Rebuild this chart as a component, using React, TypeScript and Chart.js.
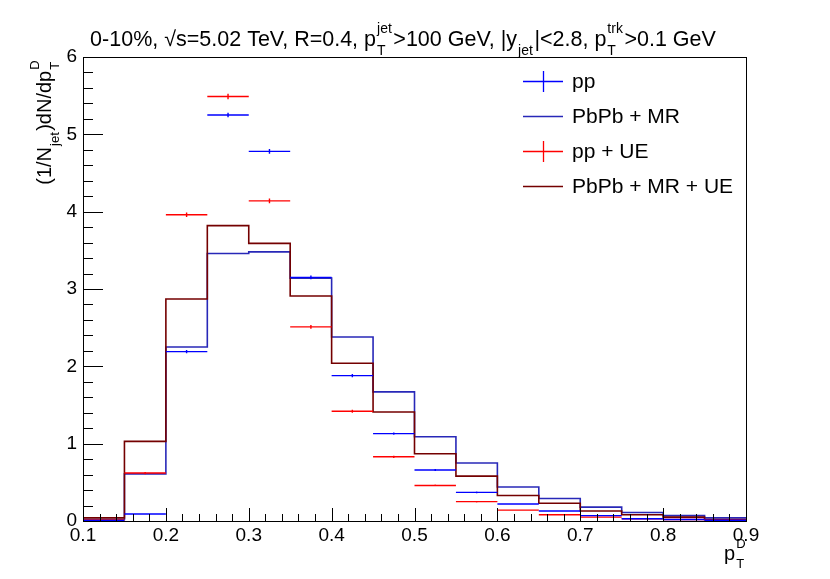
import React, { useEffect, useRef } from "react";
import { Chart, registerables } from "chart.js";

Chart.register(...registerables);

// ---------------- data ----------------
const binEdges = [0.1, 0.15, 0.2, 0.25, 0.3, 0.35, 0.4, 0.45, 0.5, 0.55, 0.6, 0.65, 0.7, 0.75, 0.8, 0.85, 0.9];

const ppValues = [0.005, 0.09, 2.19, 5.25, 4.78, 3.15, 1.88, 1.13, 0.66, 0.37, 0.22, 0.13, 0.07, 0.03, 0.02, 0.01];
const ppErrors = [0.005, 0.01, 0.02, 0.03, 0.03, 0.025, 0.02, 0.015, 0.012, 0.01, 0.008, 0.006, 0.005, 0.004, 0.003, 0.002];

const ppUEValues = [0.01, 0.62, 3.96, 5.49, 4.14, 2.51, 1.42, 0.83, 0.46, 0.25, 0.14, 0.08, 0.05, 0.03, 0.02, 0.01];
const ppUEErrors = [0.005, 0.015, 0.03, 0.035, 0.03, 0.025, 0.02, 0.015, 0.012, 0.01, 0.008, 0.006, 0.005, 0.004, 0.003, 0.002];

const pbpbMRValues = [0.02, 0.61, 2.25, 3.46, 3.48, 3.14, 2.38, 1.67, 1.09, 0.75, 0.44, 0.29, 0.18, 0.11, 0.07, 0.04];
const pbpbMRUEValues = [0.04, 1.03, 2.87, 3.82, 3.59, 2.91, 2.04, 1.41, 0.87, 0.58, 0.33, 0.23, 0.13, 0.08, 0.05, 0.02];

const xTickValues = [0.1, 0.2, 0.3, 0.4, 0.5, 0.6, 0.7, 0.8, 0.9];
const yTickValues = [0, 1, 2, 3, 4, 5, 6];

const seriesLabels = ["pp", "PbPb + MR", "pp + UE", "PbPb + MR + UE"];

// ---------------- styles ----------------
const FAMILY = '"Liberation Sans", Arial, Helvetica, sans-serif';
const BLUE = "#0000ff";
const HIST_BLUE = "#2828b8";
const RED = "#ff0000";
const DARK_RED = "#740000";

type Seg = { t?: string; sub?: string; sup?: string };

const titleSegs: Seg[] = [
  { t: "0-10%, \u221As=5.02 TeV, R=0.4, p" },
  { sub: "T", sup: "jet" },
  { t: ">100 GeV, |y" },
  { sub: "jet" },
  { t: "|<2.8, p" },
  { sub: "T", sup: "trk" },
  { t: ">0.1 GeV" },
];
const yTitleSegs: Seg[] = [{ t: "(1/N" }, { sub: "jet" }, { t: ")dN/dp" }, { sub: "T", sup: "D" }];
const xTitleSegs: Seg[] = [{ t: "p" }, { sub: "T", sup: "D" }];

function richWidth(ctx: CanvasRenderingContext2D, segs: Seg[], size: number) {
  let w = 0;
  for (const s of segs) {
    if (s.t) {
      ctx.font = `${size}px ${FAMILY}`;
      w += ctx.measureText(s.t).width;
    } else {
      ctx.font = `${size * 0.65}px ${FAMILY}`;
      const a = s.sub ? ctx.measureText(s.sub).width : 0;
      const b = s.sup ? ctx.measureText(s.sup).width : 0;
      w += Math.max(a, b) + size * 0.12;
    }
  }
  return w;
}

function drawRich(ctx: CanvasRenderingContext2D, segs: Seg[], x: number, y: number, size: number) {
  let cx = x;
  ctx.textBaseline = "alphabetic";
  ctx.textAlign = "left";
  for (const s of segs) {
    if (s.t) {
      ctx.font = `${size}px ${FAMILY}`;
      ctx.fillText(s.t, cx, y);
      cx += ctx.measureText(s.t).width;
    } else {
      const ss = size * 0.65;
      ctx.font = `${ss}px ${FAMILY}`;
      let w = 0;
      if (s.sup) {
        ctx.fillText(s.sup, cx + 1, y - size * 0.62);
        w = Math.max(w, ctx.measureText(s.sup).width);
      }
      if (s.sub) {
        ctx.fillText(s.sub, cx + 1, y + size * 0.42);
        w = Math.max(w, ctx.measureText(s.sub).width);
      }
      cx += w + size * 0.12;
    }
  }
}

function histPoints(vals: number[]) {
  const pts: { x: number; y: number | null }[] = [];
  vals.forEach((v, i) => {
    pts.push({ x: binEdges[i], y: v });
    pts.push({ x: binEdges[i + 1], y: v });
  });
  return pts;
}

function errPoints(vals: number[], errs: number[]) {
  const pts: { x: number; y: number | null }[] = [];
  vals.forEach((v, i) => {
    const lo = binEdges[i];
    const hi = binEdges[i + 1];
    const c = (lo + hi) / 2;
    pts.push({ x: lo, y: v }, { x: hi, y: v }, { x: hi, y: null });
    pts.push({ x: c, y: v - errs[i] }, { x: c, y: v + errs[i] }, { x: c, y: null });
  });
  return pts;
}

const decorPlugin = {
  id: "rootDecor",
  afterDraw(chart: any) {
    const ctx: CanvasRenderingContext2D = chart.ctx;
    const { left, right, top, bottom } = chart.chartArea;
    const xs = chart.scales.x;
    const ys = chart.scales.y;
    ctx.save();
    ctx.strokeStyle = "#000";
    ctx.lineWidth = 1;
    // frame
    ctx.strokeRect(Math.round(left) + 0.5, Math.round(top) + 0.5, Math.round(right - left), Math.round(bottom - top));
    // x ticks
    ctx.beginPath();
    for (let k = 0; k <= 40; k++) {
      const v = 0.1 + k * 0.02;
      const px = Math.round(xs.getPixelForValue(v)) + 0.5;
      const len = k % 5 === 0 ? 13 : 7;
      ctx.moveTo(px, bottom);
      ctx.lineTo(px, bottom - len);
    }
    // y ticks
    for (let k = 0; k <= 30; k++) {
      const v = k * 0.2;
      const py = Math.round(ys.getPixelForValue(v)) + 0.5;
      const len = k % 5 === 0 ? 20 : 10;
      ctx.moveTo(left, py);
      ctx.lineTo(left + len, py);
    }
    ctx.stroke();

    // legend
    const legendX = 523;
    const legendRows = [81, 116, 151, 186];
    const legendColors = [BLUE, HIST_BLUE, RED, DARK_RED];
    const legendCross = [true, false, true, false];
    legendRows.forEach((ry, i) => {
      ctx.strokeStyle = legendColors[i];
      ctx.lineWidth = i === 1 || i === 3 ? 1.6 : 1.3;
      ctx.beginPath();
      ctx.moveTo(legendX, ry + 0.5);
      ctx.lineTo(legendX + 40, ry + 0.5);
      if (legendCross[i]) {
        ctx.moveTo(legendX + 20.5, ry - 10);
        ctx.lineTo(legendX + 20.5, ry + 11);
      }
      ctx.stroke();
      ctx.fillStyle = "#000";
      ctx.font = `21px ${FAMILY}`;
      ctx.textBaseline = "middle";
      ctx.textAlign = "left";
      ctx.fillText(seriesLabels[i], 572, ry + 1);
    });

    ctx.fillStyle = "#000";
    // title
    const tSize = 21.5;
    const tw = richWidth(ctx, titleSegs, tSize);
    drawRich(ctx, titleSegs, 403 - tw / 2, 46, tSize);

    // x title
    const xSize = 20;
    const xw = richWidth(ctx, xTitleSegs, xSize);
    drawRich(ctx, xTitleSegs, right - xw + 1, 560, xSize);

    // y title (rotated)
    const ySize = 20;
    const yw = richWidth(ctx, yTitleSegs, ySize);
    ctx.save();
    ctx.translate(51, top + 2);
    ctx.rotate(-Math.PI / 2);
    drawRich(ctx, yTitleSegs, -yw, 0, ySize);
    ctx.restore();

    ctx.restore();
  },
};

export default function App() {
  const ref = useRef<HTMLCanvasElement | null>(null);

  useEffect(() => {
    if (!ref.current) return;
    document.body.style.margin = "0";
    const chart = new Chart(ref.current, {
      type: "line",
      data: {
        datasets: [
          {
            label: seriesLabels[0],
            data: errPoints(ppValues, ppErrors),
            borderColor: BLUE,
            borderWidth: 1.4,
            pointRadius: 0,
            spanGaps: false,
            tension: 0,
          },
          {
            label: seriesLabels[2],
            data: errPoints(ppUEValues, ppUEErrors),
            borderColor: RED,
            borderWidth: 1.4,
            pointRadius: 0,
            spanGaps: false,
            tension: 0,
          },
          {
            label: seriesLabels[3],
            data: histPoints(pbpbMRUEValues),
            borderColor: DARK_RED,
            borderWidth: 1.6,
            pointRadius: 0,
            tension: 0,
          },
          {
            label: seriesLabels[1],
            data: histPoints(pbpbMRValues),
            borderColor: HIST_BLUE,
            borderWidth: 1.6,
            pointRadius: 0,
            tension: 0,
          },
        ],
      } as any,
      options: {
        responsive: false,
        animation: false,
        devicePixelRatio: 1,
        layout: { padding: { left: 0, right: 84, top: 57, bottom: 0 } },
        plugins: {
          legend: { display: false },
          tooltip: { enabled: false },
          title: { display: false },
        },
        scales: {
          x: {
            type: "linear",
            min: 0.1,
            max: 0.9,
            afterBuildTicks: (s: any) => {
              s.ticks = xTickValues.map((v) => ({ value: v }));
            },
            afterFit: (s: any) => {
              s.height = 58;
            },
            grid: { display: false, drawTicks: false },
            border: { display: false },
            ticks: {
              autoSkip: false,
              maxRotation: 0,
              padding: 3,
              color: "#000",
              font: { family: FAMILY, size: 19 },
              callback: (v: any) => Number(v).toFixed(1),
            },
          },
          y: {
            type: "linear",
            min: 0,
            max: 6,
            afterBuildTicks: (s: any) => {
              s.ticks = yTickValues.map((v) => ({ value: v }));
            },
            afterFit: (s: any) => {
              s.width = 83;
            },
            grid: { display: false, drawTicks: false },
            border: { display: false },
            ticks: {
              autoSkip: false,
              padding: 6,
              color: "#000",
              font: { family: FAMILY, size: 19 },
              callback: (v: any) => String(v),
            },
          },
        },
      },
      plugins: [decorPlugin],
    } as any);
    return () => chart.destroy();
  }, []);

  return (
    <div style={{ position: "absolute", left: 0, top: 0, width: 830, height: 579, background: "#fff" }}>
      <canvas ref={ref} width={830} height={579} style={{ width: 830, height: 579, display: "block" }} />
    </div>
  );
}
